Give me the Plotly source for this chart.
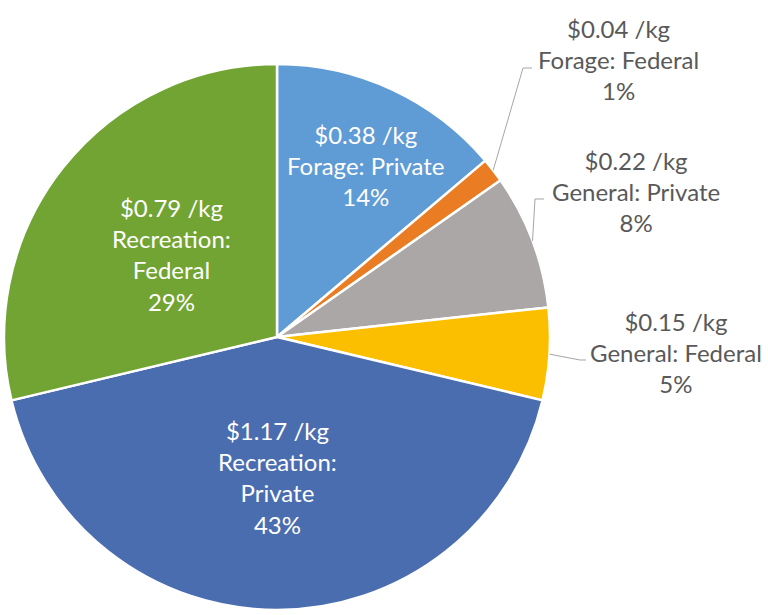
import math
import plotly.graph_objects as go

# ---- data ----
categories = ["Forage: Private", "Forage: Federal", "General: Private",
              "General: Federal", "Recreation: Private", "Recreation: Federal"]
values = [0.38, 0.04, 0.22, 0.15, 1.17, 0.79]
label_text = ["$0.38 /kg<br>Forage: Private<br>14%",
              "$0.04 /kg<br>Forage: Federal<br>1%",
              "$0.22 /kg<br>General: Private<br>8%",
              "$0.15 /kg<br>General: Federal<br>5%",
              "$1.17 /kg<br>Recreation:<br>Private<br>43%",
              "$0.79 /kg<br>Recreation:<br>Federal<br>29%"]
colors = ["#5f9bd5", "#ea7d24", "#aba7a6", "#fbbf00", "#4a6db0", "#72a433"]

# ---- layout geometry (pixels) ----
W, H = 768, 615
CX, CY, R = 277, 337, 273
# label centres in pixels
label_pos = [(366, 165), (618, 60), (636, 191), (676, 352), (277, 477), (171, 254)]
inside = [True, False, False, False, True, True]
# leader elbows (pixel) for outside labels
elbows = {1: [(523, 68), (532, 68)], 2: [(535, 199), (544, 199)], 3: [(580, 360), (586, 360)]}

def px(x):
    return x / W

def py(y):
    return 1 - y / H

fig = go.Figure(go.Pie(
    labels=categories, values=values, sort=False, direction="clockwise",
    rotation=0, textinfo="none", hoverinfo="label+value+percent",
    marker=dict(colors=colors, line=dict(color="white", width=2.5)),
    domain=dict(x=[px(CX - R), px(CX + R)], y=[py(CY + R), py(CY - R)]),
    showlegend=False,
))

total = sum(values)
cum = 0
shapes = []
annotations = []
for i, v in enumerate(values):
    mid = (cum + v / 2) / total * 2 * math.pi
    cum += v
    x, y = label_pos[i]
    annotations.append(dict(
        x=px(x), y=py(y), xref="paper", yref="paper", text=label_text[i],
        showarrow=False, xanchor="center", yanchor="middle", align="center",
        font=dict(family="Lato", size=24, color="white" if inside[i] else "#595959"),
    ))
    if i in elbows:
        sx = CX + R * math.sin(mid)
        sy = CY - R * math.cos(mid)
        pts = [(sx, sy)] + elbows[i]
        path = "M " + " L ".join(f"{px(a)},{py(b)}" for a, b in pts)
        shapes.append(dict(type="path", xref="paper", yref="paper", path=path,
                           line=dict(color="#a6a6a6", width=1)))

fig.update_layout(
    width=W, height=H, margin=dict(l=0, r=0, t=0, b=0),
    paper_bgcolor="white", plot_bgcolor="white",
    shapes=shapes, annotations=annotations,
)
fig.write_html("out.html", config={"displayModeBar": False},
               post_script="document.body.style.margin='0';")
